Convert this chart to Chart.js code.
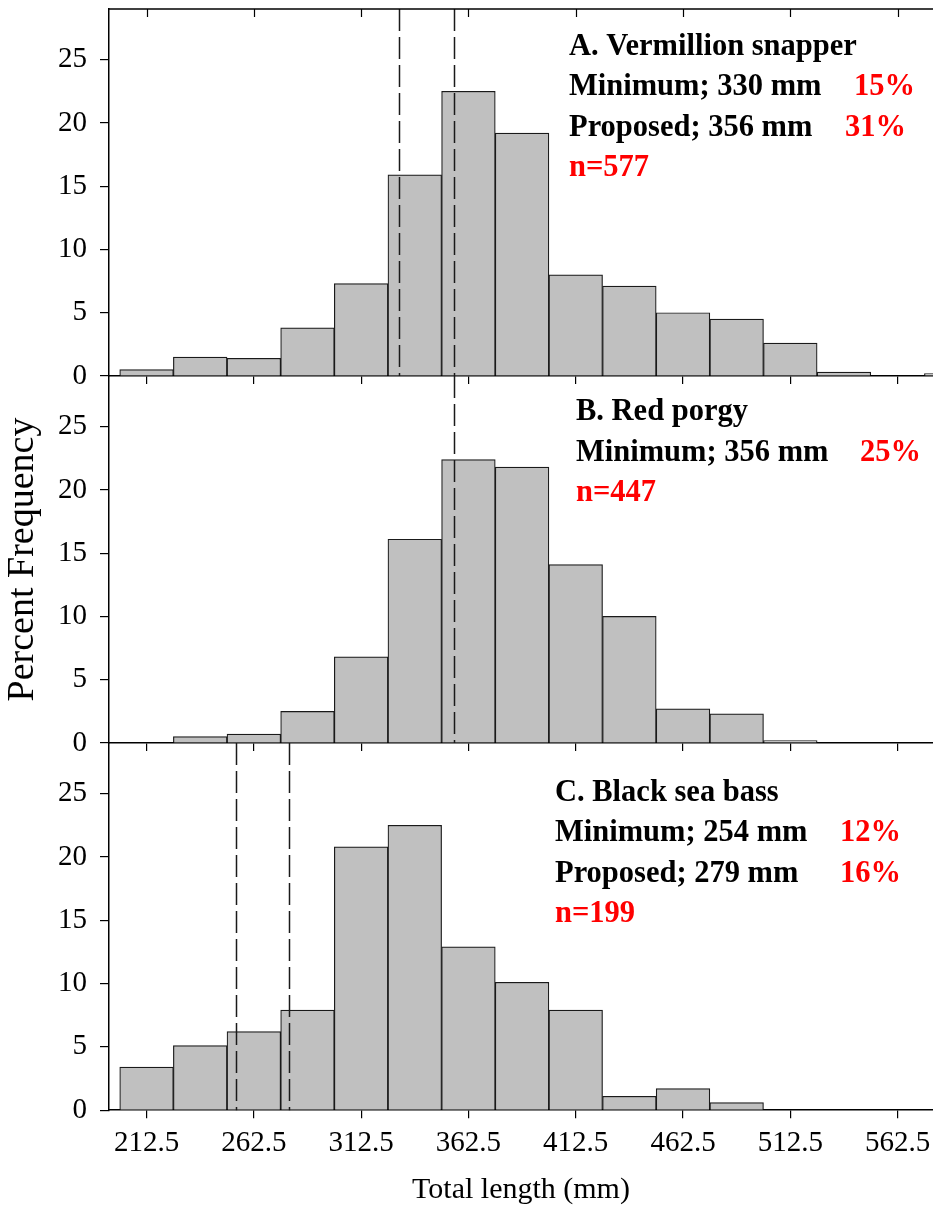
<!DOCTYPE html>
<html>
<head>
<meta charset="utf-8">
<script src="https://cdn.jsdelivr.net/npm/chart.js@4.4.1/dist/chart.umd.min.js"></script>
<style>
  html, body { margin: 0; padding: 0; background: #fff; }
  #wrap { position: relative; width: 933px; height: 1210px; overflow: hidden; background: #fff; }
  canvas { position: absolute; left: 0; }
</style>
</head>
<body>
<div id="wrap">
  <canvas id="panelA" width="933" height="409" style="top:0px"></canvas>
  <canvas id="panelB" width="933" height="400" style="top:376px"></canvas>
  <canvas id="panelC" width="933" height="467" style="top:743px"></canvas>
</div>
<script>
// 25 mm length bins from 200 to 600 mm, values in percent frequency
const binCenters = [212.5, 237.5, 262.5, 287.5, 312.5, 337.5, 362.5, 387.5, 412.5, 437.5, 462.5, 487.5, 512.5, 537.5, 562.5, 587.5];
const vermillion = [0.5, 1.5, 1.4, 3.8, 7.3, 15.9, 22.5, 19.2, 8.0, 7.1, 5.0, 4.5, 2.6, 0.3, 0, 0.2];
const redPorgy = [0, 0.5, 0.7, 2.5, 6.8, 16.1, 22.4, 21.8, 14.1, 10.0, 2.7, 2.3, 0.2, 0, 0, 0];
const blackSeaBass = [3.4, 5.1, 6.2, 7.9, 20.8, 22.5, 12.9, 10.1, 7.9, 1.1, 1.7, 0.6, 0, 0, 0, 0];

const xTicks = [212.5, 262.5, 312.5, 362.5, 412.5, 462.5, 512.5, 562.5];
const yTicks = [0, 5, 10, 15, 20, 25];

// size limits (mm) drawn as dashed lines
const cutoffsA = [330, 356];
const cutoffsB = [356];
const cutoffsC = [254, 279];

const linesA = ['A. Vermillion snapper', 'Minimum; 330 mm', 'Proposed; 356 mm'];
const pctA = ['15%', '31%'];
const nA = 'n=577';
const linesB = ['B. Red porgy', 'Minimum; 356 mm'];
const pctB = ['25%'];
const nB = 'n=447';
const linesC = ['C. Black sea bass', 'Minimum; 254 mm', 'Proposed; 279 mm'];
const pctC = ['12%', '16%'];
const nC = 'n=199';

const SERIF = '"Liberation Serif", "Times New Roman", serif';

function makeDecor(cfg) {
  return {
    id: 'panelDecor',
    afterDatasetsDraw(chart) {
      const { ctx, chartArea: ca, scales: { x } } = chart;
      ctx.save();
      ctx.strokeStyle = '#1a1a1a';
      ctx.lineWidth = 1.5;
      ctx.setLineDash([22, 6]);
      cfg.cutoffs.forEach(v => {
        const px = Math.round(x.getPixelForValue(v)) + 0.5;
        ctx.beginPath();
        ctx.moveTo(px, ca.top);
        ctx.lineTo(px, ca.bottom);
        ctx.stroke();
      });
      ctx.setLineDash([]);

      if (cfg.topFrame) {
        ctx.strokeStyle = '#000';
        ctx.lineWidth = 1.5;
        ctx.beginPath();
        ctx.moveTo(ca.left, ca.top);
        ctx.lineTo(ca.right, ca.top);
        ctx.stroke();
        ctx.lineWidth = 1.2;
        xTicks.forEach(v => {
          const px = Math.round(x.getPixelForValue(v)) + 0.5;
          ctx.beginPath();
          ctx.moveTo(px, ca.top);
          ctx.lineTo(px, ca.top + 8);
          ctx.stroke();
        });
      }

      ctx.font = 'bold 30.5px ' + SERIF;
      ctx.textAlign = 'left';
      ctx.textBaseline = 'alphabetic';
      ctx.fillStyle = '#000';
      cfg.lines.forEach((t, i) => ctx.fillText(t, cfg.textX, cfg.textY + i * cfg.gap));
      ctx.fillStyle = '#ff0000';
      cfg.pcts.forEach((t, i) => ctx.fillText(t, cfg.pctX[i], cfg.textY + (i + 1) * cfg.gap));
      ctx.fillText(cfg.n, cfg.textX, cfg.textY + cfg.lines.length * cfg.gap);
      ctx.restore();
    }
  };
}

function makeChart(id, values, cfg) {
  const bottom = cfg.bottom;
  return new Chart(document.getElementById(id), {
    type: 'bar',
    data: {
      datasets: [{
        data: binCenters.map((x, i) => ({ x: x, y: values[i] })),
        backgroundColor: '#c0c0c0',
        borderColor: '#1a1a1a',
        borderWidth: 1.2,
        barPercentage: 1,
        categoryPercentage: 1
      }]
    },
    options: {
      responsive: false,
      animation: false,
      layout: { padding: cfg.padding },
      plugins: { legend: { display: false }, tooltip: { enabled: false } },
      scales: {
        x: {
          type: 'linear',
          min: 195,
          max: 579,
          offset: false,
          afterBuildTicks: a => { a.ticks = xTicks.map(v => ({ value: v })); },
          afterFit: a => { a.paddingLeft = 0; a.paddingRight = 0; },
          grid: { offset: false, drawOnChartArea: false, drawTicks: true, tickLength: 8, color: '#000', lineWidth: 1.2 },
          border: { display: true, color: '#000', width: 1.5 },
          ticks: {
            display: bottom,
            autoSkip: false,
            maxRotation: 0,
            padding: 8,
            color: '#000',
            font: { family: SERIF, size: 29 },
            callback: v => v.toFixed(1)
          },
          title: {
            display: bottom,
            text: 'Total length (mm)',
            color: '#000',
            font: { family: SERIF, size: 30 },
            padding: { top: 3, bottom: 2 }
          }
        },
        y: {
          min: 0,
          max: 29,
          afterBuildTicks: a => { a.ticks = yTicks.map(v => ({ value: v })); },
          afterFit: a => { a.width = 109; a.paddingTop = 0; a.paddingBottom = 0; },
          grid: { drawOnChartArea: false, drawTicks: true, tickLength: 9, color: '#000', lineWidth: 1.2 },
          border: { display: true, color: '#000', width: 1.5 },
          ticks: {
            padding: 13,
            color: '#000',
            font: { family: SERIF, size: 29 },
            callback: v => String(v)
          },
          title: {
            display: !!cfg.yTitle,
            text: 'Percent Frequency',
            color: '#000',
            font: { family: SERIF, size: 38 },
            padding: 0
          }
        }
      }
    },
    plugins: [makeDecor(cfg)]
  });
}

makeChart('panelA', vermillion, {
  padding: { top: 9, bottom: 25, left: 0, right: 0 },
  bottom: false, topFrame: true,
  cutoffs: cutoffsA, lines: linesA, pcts: pctA, n: nA,
  textX: 569, textY: 55, gap: 40.3, pctX: [854, 845]
});
makeChart('panelB', redPorgy, {
  padding: { top: 0, bottom: 25, left: 0, right: 0 },
  bottom: false, yTitle: true,
  cutoffs: cutoffsB, lines: linesB, pcts: pctB, n: nB,
  textX: 576, textY: 44, gap: 40.5, pctX: [860]
});
makeChart('panelC', blackSeaBass, {
  padding: { top: 0, bottom: 0, left: 0, right: 0 },
  bottom: true,
  cutoffs: cutoffsC, lines: linesC, pcts: pctC, n: nC,
  textX: 555, textY: 58, gap: 40.3, pctX: [840, 840]
});
</script>
</body>
</html>
